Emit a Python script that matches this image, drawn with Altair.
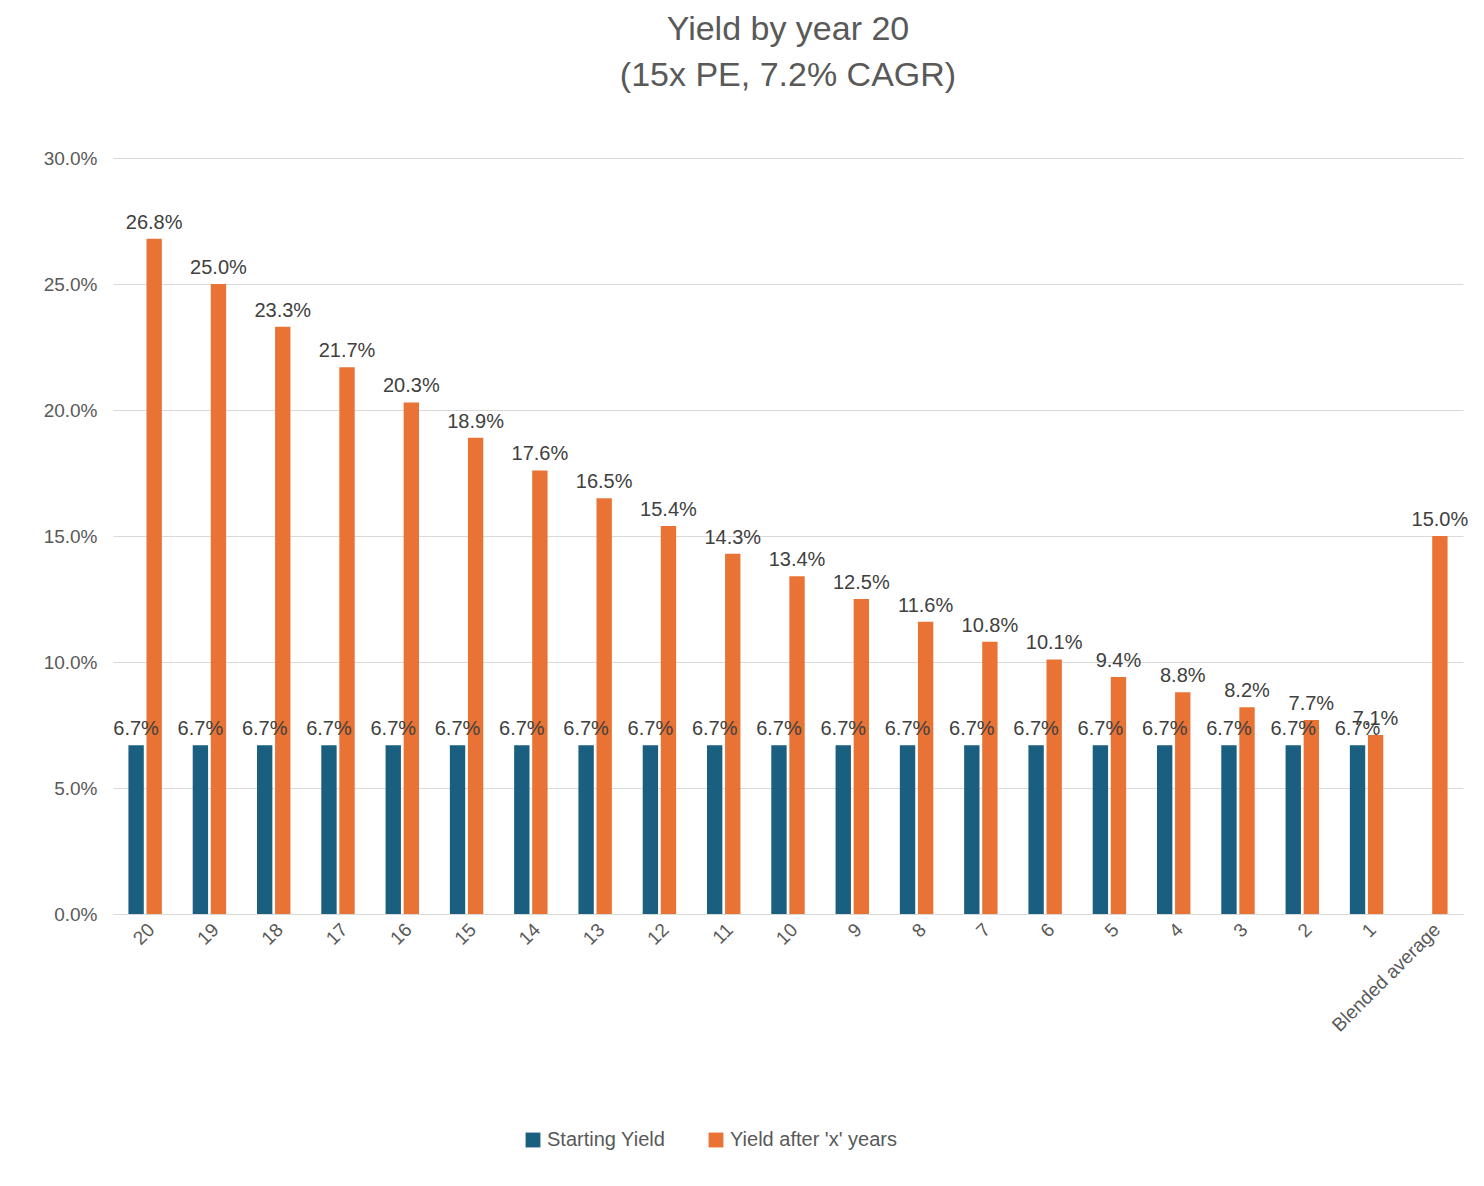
import altair as alt
import pandas as pd

categories = [str(i) for i in range(20, 0, -1)] + ["Blended average"]
starting_yield = [6.7] * 20 + [None]
yield_after = [26.8, 25.0, 23.3, 21.7, 20.3, 18.9, 17.6, 16.5, 15.4, 14.3,
               13.4, 12.5, 11.6, 10.8, 10.1, 9.4, 8.8, 8.2, 7.7, 7.1, 15.0]
series = ["Starting Yield", "Yield after 'x' years"]
colors = ["#1a5e80", "#e87335"]

rows = []
for c, s, a in zip(categories, starting_yield, yield_after):
    if s is not None:
        rows.append({"cat": c, "series": series[0], "v": s / 100})
    rows.append({"cat": c, "series": series[1], "v": a / 100})
df = pd.DataFrame(rows)

FONT = "Liberation Sans"
x = alt.X("cat:N", sort=categories, title=None,
          scale=alt.Scale(paddingInner=0.48, paddingOuter=0.24),
          axis=alt.Axis(labelAngle=-45, labelFontSize=19, labelColor="#595959",
                        ticks=False, domainColor="#d9d9d9", labelPadding=6))
xo = alt.XOffset("series:N", sort=series, scale=alt.Scale(paddingInner=0.15))

bars = alt.Chart(df).mark_bar().encode(
    x=x, xOffset=xo,
    y=alt.Y("v:Q", title=None, scale=alt.Scale(domain=[0, 0.3]),
            axis=alt.Axis(format=".1%", values=[0, .05, .1, .15, .2, .25, .3],
                          labelFontSize=19, labelColor="#595959", ticks=False,
                          domain=False, gridColor="#d9d9d9", labelPadding=16)),
    color=alt.Color("series:N", sort=series,
                    scale=alt.Scale(domain=series, range=colors),
                    legend=alt.Legend(orient="none", legendX=410, legendY=972,
                                      direction="horizontal", title=None,
                                      symbolType="square", labelLimit=400,
                                      labelFontSize=20, labelColor="#595959",
                                      symbolSize=220, columnPadding=40,
                                      labelFont=FONT)),
)

labels = alt.Chart(df).mark_text(dy=-16, fontSize=20, color="#404040", font=FONT).encode(
    x=x, xOffset=xo, y="v:Q", text=alt.Text("v:Q", format=".1%"),
)

chart = alt.layer(bars, labels).properties(
    width=1350, height=756,
    padding={"left": 35, "top": 5, "right": 5, "bottom": 5},
    title=alt.TitleParams(["Yield by year 20", "(15x PE, 7.2% CAGR)"], fontSize=34,
                          fontWeight="normal", color="#595959", font=FONT,
                          lineHeight=46, offset=56),
).configure_view(stroke=None).configure_axis(labelFont=FONT)

chart.save("out.html", embed_options={"renderer": "svg", "actions": False})
